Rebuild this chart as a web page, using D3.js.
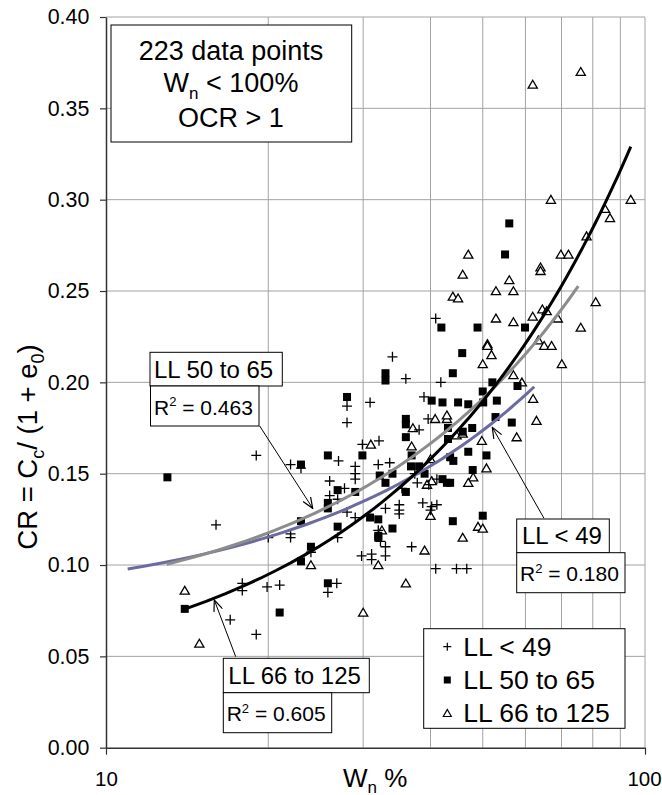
<!DOCTYPE html>
<html><head><meta charset="utf-8">
<script src="https://cdn.jsdelivr.net/npm/d3@7"></script>
<style>
body{margin:0;background:#fff}
text{font-family:"Liberation Sans",Arial,sans-serif;fill:#000}
</style>
</head><body><script>
// ---- data (Wn %, CR) ----
const ll49 = [[19.0,0.160],[22.0,0.155],[23.0,0.153],[16.0,0.122],[26.0,0.146],[26.0,0.138],[22.0,0.117],[22.0,0.115],[20.0,0.115],[24.0,0.107],[17.9,0.090],[17.9,0.086],[19.9,0.088],[21.0,0.089],[25.8,0.085],[17.0,0.070],[19.0,0.062],[34.0,0.214],[36.0,0.202],[38.9,0.192],[28.0,0.187],[28.0,0.178],[30.9,0.189],[38.1,0.174],[29.9,0.166],[32.1,0.168],[27.0,0.157],[29.0,0.154],[29.0,0.150],[29.0,0.147],[32.0,0.155],[33.6,0.156],[37.4,0.150],[37.8,0.145],[35.4,0.142],[27.7,0.142],[33.0,0.131],[35.0,0.133],[35.0,0.130],[35.0,0.128],[38.7,0.134],[28.0,0.129],[32.0,0.119],[32.3,0.113],[33.0,0.110],[36.9,0.110],[29.8,0.105],[31.1,0.106],[33.0,0.105],[31.1,0.103],[40.9,0.235],[41.8,0.200],[39.6,0.180],[41.1,0.147],[39.7,0.144],[40.2,0.132],[41.1,0.133],[40.0,0.130],[40.9,0.098],[44.7,0.098],[46.7,0.098],[26.9,0.136],[29.0,0.126],[26.9,0.115],[26.8,0.090]];
const ll50 = [[13.0,0.148],[23.0,0.155],[25.8,0.160],[25.8,0.134],[25.8,0.131],[23.0,0.124],[24.0,0.110],[23.0,0.102],[25.8,0.090],[14.0,0.076],[21.0,0.074],[56.0,0.287],[55.0,0.270],[59.9,0.230],[48.9,0.230],[41.9,0.230],[45.8,0.216],[44.0,0.205],[33.0,0.205],[33.0,0.201],[52.1,0.200],[50.0,0.195],[58.0,0.198],[28.0,0.192],[40.2,0.190],[42.1,0.189],[45.0,0.189],[47.0,0.188],[50.1,0.189],[53.1,0.190],[36.0,0.180],[36.0,0.177],[36.0,0.170],[29.9,0.160],[36.9,0.160],[56.6,0.178],[52.8,0.181],[43.1,0.175],[47.8,0.175],[45.9,0.173],[43.1,0.169],[47.0,0.162],[50.8,0.160],[43.5,0.159],[44.1,0.157],[47.9,0.152],[42.1,0.147],[42.9,0.145],[43.5,0.145],[44.0,0.124],[50.0,0.127],[32.2,0.149],[34.0,0.150],[36.8,0.154],[38.1,0.154],[39.0,0.150],[33.0,0.145],[36.0,0.140],[30.9,0.126],[32.0,0.125],[32.0,0.116],[32.0,0.115],[34.0,0.120],[26.9,0.141],[29.0,0.140],[26.9,0.121]];
const ll66 = [[24.0,0.100],[14.0,0.086],[14.9,0.057],[61.9,0.363],[76.0,0.370],[66.9,0.300],[94.1,0.300],[84.3,0.295],[86.1,0.290],[77.9,0.280],[47.0,0.270],[45.9,0.259],[69.8,0.270],[72.1,0.270],[64.0,0.263],[64.0,0.261],[56.0,0.256],[44.0,0.247],[45.0,0.246],[52.9,0.250],[57.0,0.250],[52.9,0.235],[57.0,0.233],[61.9,0.236],[64.5,0.240],[65.7,0.239],[68.9,0.235],[76.0,0.230],[81.0,0.244],[51.0,0.221],[51.0,0.220],[51.9,0.215],[50.0,0.210],[57.0,0.204],[59.1,0.200],[70.1,0.210],[62.0,0.191],[62.9,0.179],[63.4,0.223],[65.0,0.220],[67.1,0.220],[40.8,0.180],[42.9,0.180],[42.9,0.182],[44.7,0.171],[45.9,0.172],[49.8,0.168],[57.8,0.170],[37.1,0.175],[31.0,0.166],[36.9,0.165],[50.8,0.153],[48.0,0.148],[47.0,0.145],[40.2,0.146],[40.0,0.127],[49.0,0.121],[50.0,0.120],[45.9,0.115],[36.0,0.090],[30.0,0.074],[39.0,0.108],[32.0,0.100],[32.5,0.119],[39.4,0.144],[40.0,0.158]];
// linear trend lines: start and end points (Wn, CR)
const trend49 = [[10.97,0.0978],[62.3,0.1976]];
const trend50 = [[12.96,0.1004],[75.2,0.2527]];
const trend66 = [[14.0,0.0759],[94.1,0.329]];
const seriesNames = ["LL < 49","LL 50 to 65","LL 66 to 125"];
const r2Values = ["0.180","0.463","0.605"];
const yTicks = [0,0.05,0.10,0.15,0.20,0.25,0.30,0.35,0.40];
const xTickLabels = [10,100];
const xGrid = [20,30,40,50,60,70,80,90,100];

const W=662,H=795;
const FONT='"Liberation Sans",Arial,sans-serif';
const svg=d3.select("body").append("svg").attr("width",W).attr("height",H);
const x=d3.scaleLog().domain([10,100]).range([106,645]);
const y=d3.scaleLinear().domain([0,0.4]).range([747.7,17]);

const defs=svg.append("defs");
defs.append("marker").attr("id","arr").attr("viewBox","0 0 12 10").attr("refX",11).attr("refY",5)
 .attr("markerWidth",12).attr("markerHeight",10).attr("markerUnits","userSpaceOnUse").attr("orient","auto")
 .append("path").attr("d","M0,0.5L11,5L0,9.5").attr("fill","none").attr("stroke","#000").attr("stroke-width",1.2);

// grid
const grid=svg.append("g").attr("stroke","#a3a3a3").attr("stroke-width",1);
grid.selectAll("line.h").data(yTicks.slice(1)).join("line")
 .attr("x1",x(10)).attr("x2",x(100)).attr("y1",d=>y(d)).attr("y2",d=>y(d));
grid.selectAll("line.v").data(xGrid).join("line")
 .attr("x1",d=>x(d)).attr("x2",d=>x(d)).attr("y1",y(0)).attr("y2",y(0.4));

// axes
const yAxis=svg.append("g").attr("transform",`translate(${x(10)},0)`)
 .call(d3.axisLeft(y).tickValues(yTicks).tickFormat(d3.format(".2f")).tickSize(6).tickSizeOuter(0).tickPadding(10.7));
const xAxis=svg.append("g").attr("transform",`translate(0,${y(0)})`)
 .call(d3.axisBottom(x).tickValues(xTickLabels).tickFormat(d3.format("d")).tickSize(7).tickSizeOuter(0).tickPadding(17));
[yAxis,xAxis].forEach(g=>{
 g.attr("font-family",FONT);
 g.selectAll("path.domain").attr("stroke","#333").attr("stroke-width",1.5);
 g.selectAll(".tick line").attr("stroke","#333").attr("stroke-width",1.2);
 g.selectAll(".tick text").attr("fill","#000");
});
yAxis.attr("font-size",21.4);
xAxis.attr("font-size",20.5);
xAxis.selectAll(".tick text").filter(d=>d===100).attr("dx",-1);

// points
const pts=svg.append("g");
pts.selectAll("path.tri").data(ll66).join("path")
 .attr("transform",d=>`translate(${x(d[0])},${y(d[1])})`)
 .attr("d","M0,-4.3L4.6,3.6L-4.6,3.6Z").attr("fill","#fff").attr("stroke","#000").attr("stroke-width",1.3);
pts.selectAll("rect.sq").data(ll50).join("rect")
 .attr("x",d=>x(d[0])-4).attr("y",d=>y(d[1])-4).attr("width",8).attr("height",8).attr("fill","#000");
pts.selectAll("path.plus").data(ll49).join("path")
 .attr("transform",d=>`translate(${x(d[0])},${y(d[1])})`)
 .attr("d","M-5,0H5M0,-5V5").attr("stroke","#000").attr("stroke-width",1.3);

// trend lines (straight lines in linear Wn, drawn on the log axis)
function trendPath(seg){
 const [a,b]=seg; const n=60;
 const p=d3.range(n+1).map(i=>{const t=i/n;return [a[0]+(b[0]-a[0])*t,a[1]+(b[1]-a[1])*t];});
 return d3.line().x(d=>x(d[0])).y(d=>y(d[1]))(p);
}
svg.append("path").attr("d",trendPath(trend49)).attr("fill","none").attr("stroke","#6b6b9f").attr("stroke-width",3);
svg.append("path").attr("d",trendPath(trend50)).attr("fill","none").attr("stroke","#8c8c8c").attr("stroke-width",3);
svg.append("path").attr("d",trendPath(trend66)).attr("fill","none").attr("stroke","#000").attr("stroke-width",3);

// arrows
const arrows=[[[259.7,426],[312.7,508.3]],[[235.7,656.7],[214.3,600]],[[544,518.3],[492.3,427.3]]];
svg.append("g").selectAll("line").data(arrows).join("line")
 .attr("x1",d=>d[0][0]).attr("y1",d=>d[0][1]).attr("x2",d=>d[1][0]).attr("y2",d=>d[1][1])
 .attr("stroke","#000").attr("stroke-width",1).attr("marker-end","url(#arr)");

function box(x0,y0,w,h){svg.append("rect").attr("x",x0).attr("y",y0).attr("width",w).attr("height",h)
 .attr("fill","#fff").attr("stroke","#000").attr("stroke-width",1);}
function r2Text(xx,yy,val){
 const t=svg.append("text").attr("x",xx).attr("y",yy).attr("font-size",21);
 t.append("tspan").text("R");
 t.append("tspan").attr("font-size",13).attr("dy",-8.5).text("2");
 t.append("tspan").attr("dy",8.5).text(" = "+val);
}
// info box
box(111,25,240.7,117);
svg.append("text").attr("text-anchor","middle").attr("font-size",27).attr("x",231).attr("y",60).text("223 data points");
const l2=svg.append("text").attr("text-anchor","middle").attr("font-size",27).attr("x",231).attr("y",91.7);
l2.append("tspan").text("W");
l2.append("tspan").attr("font-size",17).attr("dy",7).text("n");
l2.append("tspan").attr("dy",-7).text(" < 100%");
svg.append("text").attr("text-anchor","middle").attr("font-size",27).attr("x",231).attr("y",126.7).text("OCR > 1");

// annotation boxes
box(150,352.3,132.3,33.7); box(150.5,386,108.5,40);
svg.append("text").attr("x",154).attr("y",378).attr("font-size",24).text(seriesNames[1]);
r2Text(154,414.5,r2Values[1]);
box(223.3,658.3,146,34.4); box(223.3,692.7,108.4,40);
svg.append("text").attr("x",228.3).attr("y",684).attr("font-size",24).text(seriesNames[2]);
r2Text(226.7,721.2,r2Values[2]);
box(516.7,519,92.6,33.7); box(516.7,552.7,108.3,40);
svg.append("text").attr("x",522).attr("y",544.3).attr("font-size",24).text(seriesNames[0]);
r2Text(520,581.2,r2Values[0]);

// legend
box(423.7,628.7,201.3,99.6);
const lg=svg.append("g");
const ly=[646.7,680,713.3];
lg.append("path").attr("transform",`translate(447.3,${ly[0]})`).attr("d","M-4,0H4M0,-4V4").attr("stroke","#000").attr("stroke-width",1.2);
lg.append("rect").attr("x",447.3-3.5).attr("y",ly[1]-3.5).attr("width",7).attr("height",7).attr("fill","#000");
lg.append("path").attr("transform",`translate(447.3,${ly[2]})`).attr("d","M0,-3.8L4,3.2L-4,3.2Z").attr("fill","#fff").attr("stroke","#000").attr("stroke-width",1.2);
lg.selectAll("text").data(seriesNames).join("text").attr("x",463.3).attr("y",(d,i)=>ly[i]+9).attr("font-size",26.5).text(d=>d);

// axis titles
const xt=svg.append("text").attr("x",343).attr("y",786.5).attr("font-size",26);
xt.append("tspan").text("W");
xt.append("tspan").attr("font-size",17).attr("dy",6).text("n");
xt.append("tspan").attr("dy",-6).text(" %");
const yt=svg.append("text").attr("transform","translate(37,447) rotate(-90)").attr("text-anchor","middle").attr("font-size",27.5);
yt.append("tspan").text("CR = C");
yt.append("tspan").attr("font-size",18).attr("dy",7).text("c");
yt.append("tspan").attr("dy",-7).text("/ (1 + e");
yt.append("tspan").attr("font-size",18).attr("dy",7).text("0");
yt.append("tspan").attr("dy",-7).text(")");
</script></body></html>
